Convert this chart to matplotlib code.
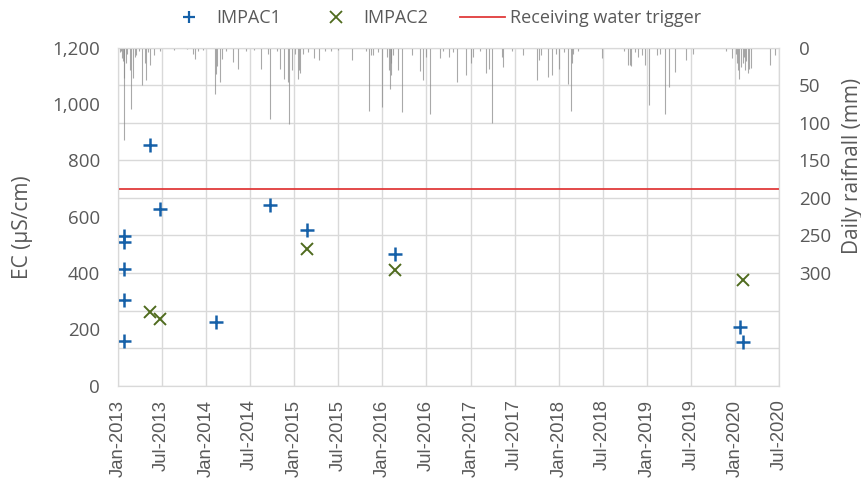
import matplotlib
matplotlib.use('Agg')
import matplotlib.pyplot as plt
import matplotlib.dates as mdates
from matplotlib.lines import Line2D
from matplotlib.ticker import FuncFormatter, FixedLocator
import numpy as np
import pandas as pd

# EC samples (uS/cm)
impac1_dates = ['2013-01-26', '2013-01-26', '2013-01-27', '2013-01-27', '2013-01-27',
                '2013-05-16', '2013-06-26', '2014-02-10', '2014-09-21', '2015-02-24',
                '2016-02-24', '2020-01-22', '2020-02-01']
impac1_ec = [532, 510, 414, 303, 159, 855, 626, 225, 641, 553, 468, 209, 156]

impac2_dates = ['2013-05-13', '2013-06-26', '2015-02-24', '2016-02-24', '2020-02-01']
impac2_ec = [261, 236, 485, 411, 374]

trigger = 700

# daily rainfall (mm), the visible spikes only
rain_dates = ['2013-01-08', '2013-01-14', '2013-01-20', '2013-01-22', '2013-01-26', '2013-01-28',
              '2013-02-02', '2013-02-10', '2013-02-20', '2013-02-25', '2013-03-03', '2013-03-11',
              '2013-03-19', '2013-03-28', '2013-04-10', '2013-04-22', '2013-04-26', '2013-05-05',
              '2013-05-16', '2013-06-01', '2013-06-24', '2013-08-20', '2013-10-15', '2013-11-07',
              '2013-11-16', '2013-11-27', '2013-12-20', '2014-02-07', '2014-02-11', '2014-02-15',
              '2014-03-01', '2014-03-07', '2014-03-25', '2014-04-22', '2014-05-13', '2014-06-16',
              '2014-07-20', '2014-08-16', '2014-09-13', '2014-09-21', '2014-10-20', '2014-11-03',
              '2014-11-19', '2014-12-07', '2014-12-12', '2014-12-22', '2015-01-05', '2015-01-16',
              '2015-01-20', '2015-01-24', '2015-02-07', '2015-03-01', '2015-03-22', '2015-04-13',
              '2015-05-10', '2015-06-01', '2015-07-01', '2015-08-28', '2015-10-26', '2015-11-05',
              '2015-11-14', '2015-11-22', '2015-12-12', '2015-12-30', '2016-01-20', '2016-01-29',
              '2016-02-01', '2016-02-04', '2016-02-06', '2016-02-14', '2016-03-04', '2016-03-22',
              '2016-05-04', '2016-06-05', '2016-06-19', '2016-07-01', '2016-07-16', '2016-08-25',
              '2016-09-09', '2016-10-01', '2016-10-20', '2016-11-04', '2016-12-12', '2016-12-31',
              '2017-01-09', '2017-02-10', '2017-03-03', '2017-03-18', '2017-03-28', '2017-05-10',
              '2017-05-16', '2017-06-20', '2017-08-07', '2017-10-03', '2017-10-12', '2017-10-18',
              '2017-11-18', '2017-12-04', '2017-12-20', '2018-01-03', '2018-01-20', '2018-02-07',
              '2018-02-20', '2018-02-25', '2018-03-01', '2018-03-22', '2018-06-28', '2018-09-25',
              '2018-10-13', '2018-10-20', '2018-10-28', '2018-11-10', '2018-11-22', '2018-12-10',
              '2018-12-25', '2019-01-09', '2019-02-11', '2019-02-24', '2019-03-16', '2019-03-31',
              '2019-04-27', '2019-06-10', '2019-07-10', '2019-11-25', '2019-12-18', '2020-01-04',
              '2020-01-08', '2020-01-13', '2020-01-17', '2020-01-26', '2020-02-01', '2020-02-06',
              '2020-02-10', '2020-02-16', '2020-02-22', '2020-02-27', '2020-03-04', '2020-05-25',
              '2020-06-15']
rain_mm = [6, 4, 14, 18, 123, 40,
           20, 8, 30, 81, 40, 12,
           10, 5, 50, 20, 43, 6,
           23, 10, 5, 3, 2, 8,
           15, 5, 3, 61, 35, 25,
           46, 15, 5, 19, 28, 4,
           3, 28, 8, 95, 4, 28,
           41, 45, 101, 30, 8, 41,
           30, 34, 8, 6, 14, 16,
           4, 5, 3, 16, 5, 84,
           10, 10, 6, 79, 12, 30,
           55, 37, 20, 10, 30, 86,
           10, 31, 43, 12, 88, 14,
           5, 12, 6, 45, 36, 21,
           12, 5, 34, 28, 100, 12,
           26, 4, 10, 43, 16, 10,
           39, 36, 8, 28, 6, 48,
           84, 20, 8, 5, 14, 4,
           23, 23, 25, 6, 12, 10,
           23, 76, 10, 8, 88, 52,
           32, 16, 8, 4, 14, 8,
           20, 30, 42, 26, 20, 12,
           30, 18, 34, 28, 27, 23,
           10]

txt = '#595959'
grid_c = '#d9d9d9'
blue = '#1560a8'
green = '#4f6b1e'
red = '#e03a3a'

fig = plt.figure(figsize=(8.62, 4.79), dpi=100)
rect = [0.1367, 0.1948, 0.7674, 0.7056]
ax2 = fig.add_axes(rect, label='rain')
ax1 = fig.add_axes(rect, sharex=ax2, label='ec')
ax1.set_zorder(2)
ax2.set_zorder(1)
ax1.patch.set_visible(False)

# rainfall on the right axis, hanging from the top
rd = pd.to_datetime(rain_dates)
ax2.vlines(rd, 0, rain_mm, color='#8c8c8c', linewidth=0.8, alpha=0.75)
ax2.set_ylim(450, 0)
ax2.yaxis.tick_right()
ax2.yaxis.set_label_position('right')
ax2.yaxis.set_major_locator(FixedLocator(np.arange(0, 451, 50)))
ax2.yaxis.set_major_formatter(FuncFormatter(lambda v, p: '%d' % v if v <= 300 else ''))
ax2.grid(axis='both', color=grid_c, linewidth=1)
ax2.set_axisbelow(True)
ax2.set_ylabel('Daily raifnall (mm)', fontsize=15, color=txt, family='Open Sans')
ax2.yaxis.set_label_coords(1.095, 0.65)

# EC on the left axis
ax1.plot(pd.to_datetime(impac1_dates), impac1_ec, linestyle='none', marker='+',
         color=blue, markersize=10, markeredgewidth=1.8)
ax1.plot(pd.to_datetime(impac2_dates), impac2_ec, linestyle='none', marker='x',
         color=green, markersize=8.5, markeredgewidth=1.4)
ax1.axhline(trigger, color=red, linewidth=1.3)
ax1.set_ylim(0, 1200)
ax1.set_yticks(np.arange(0, 1201, 200))
ax1.yaxis.set_major_formatter(FuncFormatter(lambda v, p: '{:,.0f}'.format(v)))
ax1.set_ylabel('EC (\u00b5S/cm)', fontsize=15, color=txt, family='Open Sans')
ax1.yaxis.set_label_coords(-0.128, 0.47)

ax1.set_xlim(pd.Timestamp('2013-01-01'), pd.Timestamp('2020-07-01'))
ax1.xaxis.set_major_locator(mdates.MonthLocator(bymonth=[1, 7]))
ax1.xaxis.set_major_formatter(mdates.DateFormatter('%b-%Y'))

for a in (ax1, ax2):
    for s in a.spines.values():
        s.set_color(grid_c)
    a.tick_params(length=0, colors=txt)
ax2.spines['right'].set_color('#bfbfbf')
for lab in ax1.get_yticklabels() + ax2.get_yticklabels():
    lab.set_family('Open Sans')
    lab.set_fontsize(13.5)
ax1.tick_params(axis='y', pad=13)
ax2.tick_params(axis='y', pad=14)
ax1.tick_params(axis='x', pad=10)
plt.setp(ax2.get_xticklabels(), visible=False)
for lab in ax1.get_xticklabels():
    lab.set_rotation(90)
    lab.set_family('Liberation Sans')
    lab.set_fontsize(13.3)

handles = [Line2D([], [], linestyle='none', marker='+', color=blue, markersize=9, markeredgewidth=1.6),
           Line2D([], [], linestyle='none', marker='x', color=green, markersize=8, markeredgewidth=1.3),
           Line2D([], [], color=red, linewidth=1.3)]
fig.legend(handles, ['IMPAC1', 'IMPAC2', 'Receiving water trigger'], loc='center',
           bbox_to_anchor=(0.503, 0.962), ncol=3, frameon=False, handlelength=2.5,
           columnspacing=1.8, handletextpad=0.25,
           prop={'family': 'Open Sans', 'size': 13}, labelcolor=txt)

fig.savefig('out.png', dpi=100)
